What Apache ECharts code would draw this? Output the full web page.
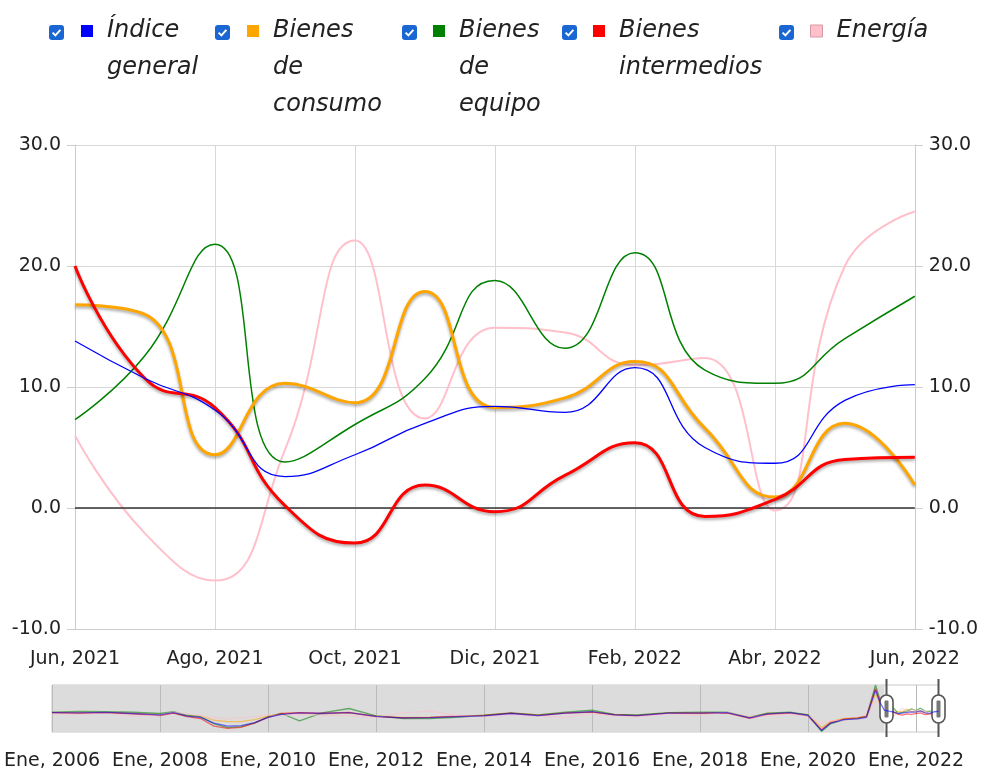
<!DOCTYPE html>
<html><head><meta charset="utf-8">
<script src="https://cdn.jsdelivr.net/npm/echarts@6/dist/echarts.min.js"></script>
<style>html,body{margin:0;padding:0;background:#fff}#chart{width:981px;height:771px}</style>
</head><body><div id="chart"></div>
<script>
// ---- main window categories (monthly) ----
const months = ['Jun, 2021','Jul, 2021','Ago, 2021','Sep, 2021','Oct, 2021','Nov, 2021','Dic, 2021','Ene, 2022','Feb, 2022','Mar, 2022','Abr, 2022','May, 2022','Jun, 2022'];
const general    = [13.8, 10.7, 8.1, 2.6, 4.4, 7.0, 8.4, 7.9, 11.6, 5.0, 3.7, 8.9, 10.2];
const consumo    = [16.8, 16.0, 4.4, 10.3, 8.7, 17.9, 8.3, 9.1, 12.1, 6.6, 0.9, 7.0, 1.9];
const equipo     = [7.3, 12.6, 21.8, 3.8, 6.9, 10.7, 18.8, 13.2, 21.1, 11.4, 10.3, 14.0, 17.5];
const intermedios= [20.0, 10.7, 8.3, 0.2, -2.9, 1.9, -0.3, 2.7, 5.4, -0.7, 0.7, 4.0, 4.2];
const energia    = [6.0, -2.1, -6.0, 4.8, 22.1, 7.4, 14.9, 14.5, 11.8, 12.4, -0.2, 20.0, 24.5];

// ---- overview (range selector) history, read coarsely from the small strip ----
const histDates = ['Ene, 2006','Jul, 2006','Ene, 2007','Jul, 2007','Ene, 2008','Abr, 2008','Jul, 2008','Oct, 2008','Ene, 2009','Abr, 2009','Jul, 2009','Oct, 2009','Ene, 2010','Abr, 2010','Ago, 2010','Ene, 2011','Jul, 2011','Ene, 2012','Jul, 2012','Ene, 2013','Jul, 2013','Ene, 2014','Jul, 2014','Ene, 2015','Jul, 2015','Ene, 2016','Jun, 2016','Nov, 2016','Jun, 2017','Ene, 2018','Jul, 2018','Dic, 2018','Abr, 2019','Sep, 2019','Ene, 2020','Abr, 2020','Jun, 2020','Sep, 2020','Dic, 2020','Feb, 2021','Abr, 2021','May, 2021'];
const histGeneral     = [6,5,7,3,-2,6,-6,-10,-30,-40,-38,-28,-10,0,5,3,6,-7,-12,-11,-8,-5,3,-4,4,9,-2,-4,4,4,6,-12,2,6,-3,-55,-30,-18,-15,-10,83,40];
const histConsumo     = [5,4,6,4,0,4,-4,-6,-20,-25,-25,-18,-6,2,5,2,4,-5,-10,-10,-7,-3,4,-2,5,8,0,-3,5,3,5,-9,3,5,-1,-45,-25,-14,-12,-8,70,35];
const histEquipo      = [8,10,9,8,3,9,-3,-8,-32,-45,-42,-30,-8,3,-22,5,20,-5,-14,-14,-10,-3,5,-2,8,14,0,-2,6,8,8,-10,4,8,-2,-58,-32,-18,-14,-8,100,50];
const histIntermedios = [6,4,6,2,-4,4,-8,-14,-40,-48,-44,-30,-10,3,6,4,7,-8,-12,-10,-6,-4,4,-4,4,8,-2,-5,4,4,5,-14,0,4,-5,-52,-28,-16,-12,-6,88,42];
const histEnergia     = [2,0,4,-6,-2,8,2,-4,-10,-15,-12,-8,-2,-4,0,-3,-5,-10,5,11,-4,-8,-2,-6,-10,2,-6,-8,2,-3,8,-8,-4,2,-6,-30,-22,-20,-16,-12,45,25];

const monthNames = ['Ene','Feb','Mar','Abr','May','Jun','Jul','Ago','Sep','Oct','Nov','Dic'];
const overviewCats = [];
for (let y = 2006; y <= 2022; y++) for (let m = 0; m < 12; m++) { if (y === 2022 && m > 5) break; overviewCats.push(monthNames[m] + ', ' + y); }

const names  = ['Índice general','Bienes de consumo','Bienes de equipo','Bienes intermedios','Energía'];
const lines  = [['Índice','general'],['Bienes','de','consumo'],['Bienes','de','equipo'],['Bienes','intermedios'],['Energía']];
const colors = ['#0000ff','#ffa500','#008000','#ff0000','#ffc0cb'];
const recent = [general, consumo, equipo, intermedios, energia];
const hist   = [histGeneral, histConsumo, histEquipo, histIntermedios, histEnergia];

const FONT = 'DejaVu Sans';
const chart = echarts.init(document.getElementById('chart'), null, {renderer: 'canvas'});

const lineCfg = [
  {w: 1.3, shadow: false, z: 6},
  {w: 3, shadow: true, z: 4},
  {w: 1.5, shadow: false, z: 3},
  {w: 3, shadow: true, z: 5},
  {w: 2, shadow: false, z: 2}
];

const series = [];
names.forEach((n, i) => {
  const s = {
    name: n, type: 'line', xAxisIndex: 0, yAxisIndex: 0,
    data: recent[i], smooth: 0.5, showSymbol: false, symbol: 'none',
    color: colors[i], z: lineCfg[i].z,
    lineStyle: Object.assign({color: colors[i], width: lineCfg[i].w},
      lineCfg[i].shadow ? {shadowColor: 'rgba(0,0,0,0.35)', shadowBlur: 3, shadowOffsetY: 2} : {}),
    emphasis: {disabled: true}
  };
  if (i === 0) {
    s.markLine = {silent: true, symbol: 'none', label: {show: false},
      lineStyle: {color: '#333', width: 1.5, type: 'solid'}, data: [{yAxis: 0}]};
  }
  series.push(s);
});
// gray background of the overview strip (unselected range)
series.push({
  type: 'line', xAxisIndex: 1, yAxisIndex: 2, data: [], z: 1, silent: true,
  markArea: {silent: true, itemStyle: {color: '#dcdcdc'}, data: [[{xAxis: 'Ene, 2006'}, {xAxis: months[0]}]]}
});
names.forEach((n, i) => {
  const d = histDates.map((x, k) => [x, hist[i][k]]).concat(months.map((x, k) => [x, recent[i][k]]));
  series.push({
    name: n, type: 'line', xAxisIndex: 1, yAxisIndex: 2, data: d, showSymbol: false, symbol: 'none',
    color: colors[i], z: 3 + (i === 0 ? 1 : 0), silent: true,
    lineStyle: {color: colors[i], width: 1.3, opacity: 0.55}, emphasis: {disabled: true}
  });
});

const LH = 37;
const legends = names.map((n, i) => {
  const k = lines[i].length;
  return {
    data: [n], left: [81, 247, 433, 593, 810][i], top: 31 - (2 * k - 1) * LH / 2, padding: 0,
    icon: 'rect', itemWidth: 12, itemHeight: 12,
    itemStyle: i === 4 ? {borderColor: '#d49aa4', borderWidth: 1} : {},
    formatter: () => '\n'.repeat(k - 1) + lines[i].join('\n'),
    textStyle: {fontFamily: FONT, fontStyle: 'italic', fontSize: 24, color: '#222', lineHeight: LH,
      padding: [0, 0, 0, 9], backgroundColor: 'rgba(0,0,0,0)'}
  };
});

const checkbox = x => ({type: 'group', x: x, y: 25, silent: true, children: [
  {type: 'rect', shape: {x: 0, y: 0, width: 15, height: 15, r: 3}, style: {fill: '#1a66d2'}},
  {type: 'polyline', shape: {points: [[3.6, 7.6], [6.4, 10.4], [11.4, 4.8]]}, style: {stroke: '#fff', lineWidth: 2, fill: null}}
]});

const handleSvg = '<svg xmlns="http://www.w3.org/2000/svg" width="16" height="60" viewBox="0 0 16 60">' +
  '<line x1="8" y1="2" x2="8" y2="60" stroke="#555" stroke-width="2"/>' +
  '<rect x="1.5" y="16" width="13" height="28" rx="6.5" ry="6.5" fill="#fff" stroke="#555" stroke-width="1.6"/>' +
  '<rect x="6" y="21.5" width="4" height="17" rx="1" fill="#777"/></svg>';

const axisText = {fontFamily: FONT, fontSize: 19, color: '#222'};

chart.setOption({
  animation: false,
  backgroundColor: '#fff',
  textStyle: {fontFamily: FONT},
  legend: legends,
  graphic: [checkbox(49), checkbox(215), checkbox(402), checkbox(562), checkbox(779)],
  grid: [
    {left: 75, right: 66, top: 145, height: 484},
    {left: 52, right: 42.5, top: 685, height: 48, show: true, borderColor: '#c8c8c8', borderWidth: 1, backgroundColor: '#fff'}
  ],
  xAxis: [
    {type: 'category', gridIndex: 0, data: months, boundaryGap: false,
     axisLine: {onZero: false, lineStyle: {color: '#ccc'}},
     axisTick: {show: false},
     axisLabel: Object.assign({interval: 1, margin: 21}, axisText),
     splitLine: {show: true, interval: 1, lineStyle: {color: '#d8d8d8'}}},
    {type: 'category', gridIndex: 1, data: overviewCats, boundaryGap: false, z: 2,
     axisLine: {show: false},
     axisTick: {show: true, interval: 23, length: 7, lineStyle: {color: '#bbb'}},
     axisLabel: Object.assign({interval: 23, margin: 20}, axisText),
     splitLine: {show: true, interval: 23, lineStyle: {color: '#bbb'}}},
    {type: 'category', gridIndex: 1, data: overviewCats, boundaryGap: false, show: false}
  ],
  yAxis: [
    {type: 'value', gridIndex: 0, min: -10, max: 30, interval: 10, position: 'left',
     axisLine: {show: true, lineStyle: {color: '#ccc'}},
     axisTick: {show: true, length: 8, lineStyle: {color: '#ccc'}},
     axisLabel: Object.assign({margin: 14, formatter: v => v.toFixed(1)}, axisText),
     splitLine: {show: true, lineStyle: {color: '#d8d8d8'}}},
    {type: 'value', gridIndex: 0, min: -10, max: 30, interval: 10, position: 'right',
     axisLine: {show: true, lineStyle: {color: '#ccc'}},
     axisTick: {show: true, length: 8, lineStyle: {color: '#ccc'}},
     axisLabel: Object.assign({margin: 14, formatter: v => v.toFixed(1)}, axisText),
     splitLine: {show: false}},
    {type: 'value', gridIndex: 1, min: -60, max: 100, show: false, splitLine: {show: false}}
  ],
  dataZoom: [{
    type: 'slider', xAxisIndex: 2,
    startValue: overviewCats.indexOf(months[0]), endValue: overviewCats.indexOf(months[months.length - 1]),
    left: 52, right: 42.5, top: 685, height: 48,
    showDataShadow: false, showDetail: false, brushSelect: false, moveHandleSize: 0,
    backgroundColor: 'rgba(0,0,0,0)', fillerColor: 'rgba(0,0,0,0)', borderColor: 'rgba(0,0,0,0)',
    handleIcon: 'image://data:image/svg+xml;charset=utf-8,' + encodeURIComponent(handleSvg),
    handleSize: 60, handleStyle: {opacity: 1},
    dataBackground: {lineStyle: {opacity: 0}, areaStyle: {opacity: 0}},
    selectedDataBackground: {lineStyle: {opacity: 0}, areaStyle: {opacity: 0}}
  }],
  series: series
});
</script></body></html>
